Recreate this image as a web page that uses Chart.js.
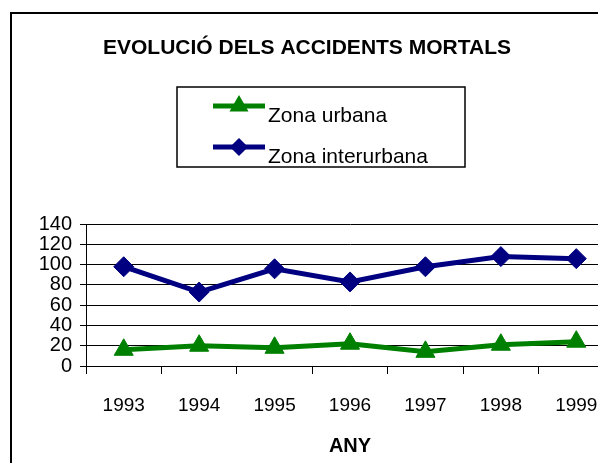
<!DOCTYPE html>
<html>
<head>
<meta charset="utf-8">
<script src="https://cdn.jsdelivr.net/npm/chart.js@4.4.1/dist/chart.umd.min.js"></script>
<style>
  html, body { margin: 0; padding: 0; background: #fff; overflow: hidden; width: 598px; height: 463px; }
  #frame { position: absolute; left: 10px; top: 12px; width: 700px; height: 600px; border: 2px solid #000; }
  #chart { position: absolute; left: 0; top: 0; }
</style>
</head>
<body>
<div id="frame"></div>
<canvas id="chart" width="640" height="463"></canvas>
<script>
const years = ["1993", "1994", "1995", "1996", "1997", "1998", "1999"];
const urbana = [16, 20, 18, 22, 14, 21, 24];
const interurbana = [98, 73, 96, 83, 98, 108, 106];
const yTicks = [0, 20, 40, 60, 80, 100, 120, 140];

const FONT = "Arial, 'Liberation Sans', sans-serif";

/* =========================
   LEGEND (boxed, line + marker)
========================= */
const boxLegend = {
  id: "boxLegend",
  afterDraw(chart) {
    const ctx = chart.ctx;
    ctx.save();
    ctx.strokeStyle = "#000";
    ctx.lineWidth = 1.5;
    ctx.strokeRect(177, 87, 288, 80);

    const rows = [106, 147];
    chart.data.datasets.forEach((ds, i) => {
      const y = rows[i];
      ctx.strokeStyle = ds.borderColor;
      ctx.lineWidth = 5;
      ctx.beginPath();
      ctx.moveTo(213, y);
      ctx.lineTo(265, y);
      ctx.stroke();
      Chart.helpers.drawPoint(ctx, {
        pointStyle: ds.pointStyle,
        radius: ds.pointStyle === "rectRot" ? 5.5 : 6,
        borderWidth: 1,
        rotation: 0,
      }, 239, y);
      ctx.fillStyle = ds.borderColor;
      ctx.fill();

      ctx.fillStyle = "#000";
      ctx.font = "21px " + FONT;
      ctx.textBaseline = "middle";
      ctx.textAlign = "left";
      ctx.fillText(ds.label, 268, y + 10);
    });
    ctx.restore();
  },
};

new Chart(document.getElementById("chart"), {
  type: "line",
  data: {
    labels: years,
    datasets: [
      {
        label: "Zona urbana",
        data: urbana,
        borderColor: "#008000",
        backgroundColor: "#008000",
        pointStyle: "triangle",
        pointRadius: 11,
        pointBorderWidth: 1,
        borderWidth: 5,
        tension: 0,
      },
      {
        label: "Zona interurbana",
        data: interurbana,
        borderColor: "#000080",
        backgroundColor: "#000080",
        pointStyle: "rectRot",
        pointRadius: 10,
        pointBorderWidth: 1,
        borderWidth: 5,
        tension: 0,
      },
    ],
  },
  options: {
    responsive: false,
    animation: false,
    devicePixelRatio: 1,
    layout: { padding: { left: 0, right: 26, top: 0, bottom: 0 } },
    plugins: {
      legend: { display: false },
      tooltip: { enabled: false },
      title: {
        display: true,
        text: "EVOLUCIÓ DELS ACCIDENTS MORTALS",
        color: "#000",
        font: { family: FONT, size: 21, weight: "bold" },
        padding: { top: 36, bottom: 163 },
      },
    },
    scales: {
      x: {
        offset: true,
        afterFit: (s) => { s.height = 97; },
        grid: { drawOnChartArea: false, offset: true, tickLength: 8, color: "#000" },
        border: { color: "#000", width: 1 },
        ticks: { color: "#000", padding: 20, font: { family: FONT, size: 19 } },
        title: {
          display: true,
          text: "ANY",
          color: "#000",
          font: { family: FONT, size: 20, weight: "bold" },
          padding: { top: 0, bottom: 5 },
        },
      },
      y: {
        min: 0,
        max: 140,
        afterFit: (s) => { s.width = 86; },
        afterBuildTicks: (s) => { s.ticks = yTicks.map((v) => ({ value: v })); },
        grid: { color: "#000", tickLength: 6 },
        border: { color: "#000", width: 1 },
        ticks: { color: "#000", padding: 8, autoSkip: false, font: { family: FONT, size: 20 } },
      },
    },
  },
  plugins: [boxLegend],
});
</script>
</body>
</html>
